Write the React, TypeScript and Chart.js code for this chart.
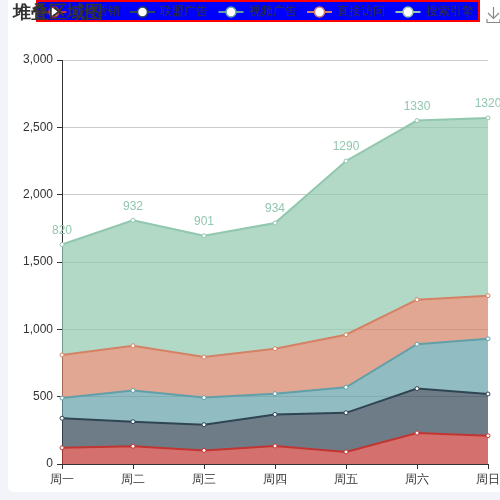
import React, { useEffect, useRef } from 'react';
import { Chart, registerables } from 'chart.js';

Chart.register(...registerables);

const titleText = '堆叠区域图';
const categories = ['周一', '周二', '周三', '周四', '周五', '周六', '周日'];
const seriesNames = ['邮件营销', '联盟广告', '视频广告', '直接访问', '搜索引擎'];
const emailData = [120, 132, 101, 134, 90, 230, 210];
const unionData = [220, 182, 191, 234, 290, 330, 310];
const videoData = [150, 232, 201, 154, 190, 330, 410];
const directData = [320, 332, 301, 334, 390, 330, 320];
const searchData = [820, 932, 901, 934, 1290, 1330, 1320];
const yMin = 0;
const yMax = 3000;
const yStep = 500;

const seriesValues = [emailData, unionData, videoData, directData, searchData];
const colors = ['#c23531', '#2f4554', '#61a0a8', '#d48265', '#91c7ae'];
const FONT = 'sans-serif';

function hexToRgba(hex: string, a: number) {
  const n = parseInt(hex.slice(1), 16);
  return `rgba(${(n >> 16) & 255},${(n >> 8) & 255},${n & 255},${a})`;
}

const topLabelPlugin = {
  id: 'topLabels',
  afterDatasetsDraw(chart: any) {
    const idx = seriesValues.length - 1;
    const meta = chart.getDatasetMeta(idx);
    const ctx = chart.ctx;
    ctx.save();
    ctx.font = `12px ${FONT}`;
    ctx.fillStyle = colors[idx];
    ctx.textAlign = 'center';
    ctx.textBaseline = 'middle';
    meta.data.forEach((pt: any, i: number) => {
      ctx.fillText(String(seriesValues[idx][i]), pt.x, pt.y - 14);
    });
    ctx.restore();
  },
};

const headerPlugin = {
  id: 'header',
  afterDraw(chart: any) {
    const ctx = chart.ctx;
    ctx.save();
    const boxL = 28, boxR = 472, boxT = 0, boxB = 22;
    ctx.fillStyle = '#0000ff';
    ctx.fillRect(boxL, boxT, boxR - boxL, boxB - boxT);
    ctx.strokeStyle = '#ff0000';
    ctx.lineWidth = 2;
    ctx.strokeRect(boxL + 1, boxT + 1, boxR - boxL - 2, boxB - boxT - 2);
    ctx.font = `12px ${FONT}`;
    ctx.textBaseline = 'middle';
    ctx.textAlign = 'left';
    const cy = 12;
    let x = 33.5;
    seriesNames.forEach((name, i) => {
      ctx.strokeStyle = colors[i];
      ctx.lineWidth = 2;
      ctx.beginPath();
      ctx.moveTo(x, cy);
      ctx.lineTo(x + 25, cy);
      ctx.stroke();
      ctx.beginPath();
      ctx.arc(x + 12.5, cy, 5, 0, Math.PI * 2);
      ctx.fillStyle = '#ffffff';
      ctx.fill();
      ctx.lineWidth = 1.5;
      ctx.stroke();
      ctx.fillStyle = '#333';
      ctx.fillText(name, x + 30, cy);
      const w = ctx.measureText(name).width;
      x += 30 + w + 10.5;
    });
    ctx.font = `bold 18px ${FONT}`;
    ctx.fillStyle = '#333';
    ctx.textBaseline = 'middle';
    ctx.fillText(titleText, 5, 13.5);
    ctx.restore();
  },
};

export default function App() {
  const ref = useRef<HTMLCanvasElement>(null);

  useEffect(() => {
    if (!ref.current) return;
    const datasets = seriesNames.map((name, i) => ({
      label: name,
      data: seriesValues[i],
      borderColor: colors[i],
      backgroundColor: hexToRgba(colors[i], 0.7),
      borderWidth: 2,
      fill: i === 0 ? 'origin' : '-1',
      tension: 0,
      pointRadius: 2,
      pointBorderWidth: 1,
      pointBackgroundColor: '#ffffff',
      pointBorderColor: colors[i],
      clip: false as any,
    }));
    const chart = new Chart(ref.current, {
      type: 'line',
      data: { labels: categories, datasets },
      options: {
        responsive: false,
        animation: false,
        layout: { padding: { top: 60, right: 12, left: 0, bottom: 0 } },
        plugins: {
          legend: { display: false },
          tooltip: { enabled: false },
          title: { display: false },
          filler: { drawTime: 'beforeDatasetsDraw' } as any,
        },
        scales: {
          x: {
            type: 'category',
            offset: false,
            grid: {
              drawOnChartArea: false,
              drawTicks: true,
              tickLength: 5,
              tickColor: '#333',
              color: '#333',
            },
            border: { color: '#333', width: 1 },
            ticks: {
              color: '#333',
              font: { size: 12, family: FONT },
              padding: 3,
              maxRotation: 0,
              autoSkip: false,
            },
            afterFit: (s: any) => {
              s.height = 28;
              s.paddingLeft = 0;
              s.paddingRight = 0;
            },
          },
          y: {
            stacked: true,
            min: yMin,
            max: yMax,
            ticks: {
              stepSize: yStep,
              color: '#333',
              padding: 4,
              font: { size: 12, family: FONT },
            },
            grid: { color: '#cccccc', tickColor: '#333', tickLength: 5 },
            border: { color: '#333', width: 1 },
            afterFit: (s: any) => {
              s.width = 54;
              s.paddingTop = 0;
              s.paddingBottom = 0;
            },
          },
        },
      },
      plugins: [topLabelPlugin, headerPlugin],
    });
    return () => chart.destroy();
  }, []);

  return (
    <div
      style={{
        position: 'fixed',
        left: 0,
        top: 0,
        width: '100vw',
        height: '100vh',
        background: '#f3f4f9',
        overflow: 'hidden',
      }}
    >
      <div
        style={{
          position: 'absolute',
          left: 8,
          top: -6,
          width: 520,
          height: 498,
          background: '#ffffff',
          borderRadius: 6,
        }}
      />
      <canvas
        ref={ref}
        width={492}
        height={492}
        style={{ position: 'absolute', left: 8, top: 0, width: 492, height: 492 }}
      />
      <svg
        width={20}
        height={24}
        viewBox="0 0 20 24"
        style={{ position: 'absolute', left: 484, top: 2 }}
      >
        <g stroke="#888" strokeWidth={1.2} fill="none">
          <line x1={9.5} y1={5} x2={9.5} y2={16} />
          <polyline points="4,11 9.5,16.5 15,11" />
          <polyline points="3,17 3,20.5 16,20.5 16,17" />
        </g>
      </svg>
    </div>
  );
}
